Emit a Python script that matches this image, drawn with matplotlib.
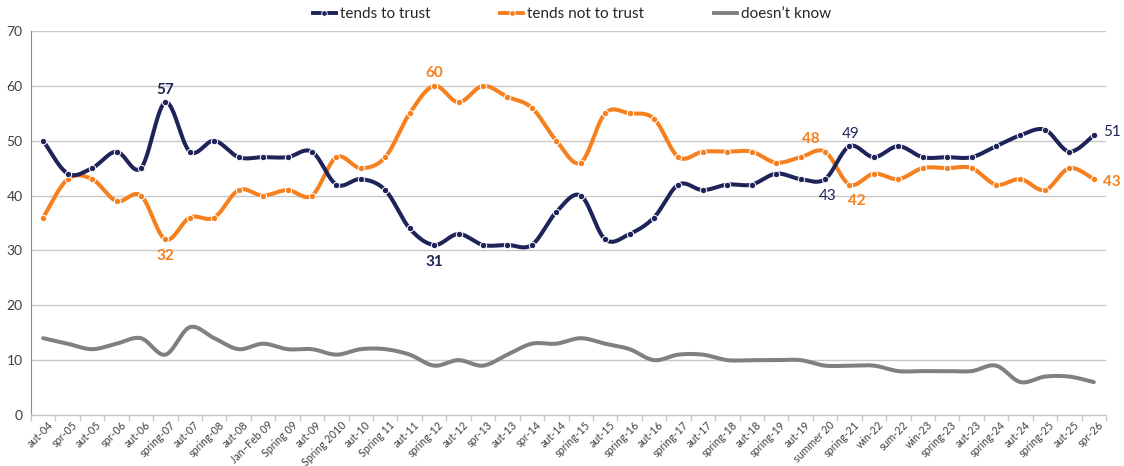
import numpy as np
import matplotlib
matplotlib.use("Agg")
import matplotlib.pyplot as plt
from matplotlib.lines import Line2D

plt.rcParams['font.family'] = ['Lato', 'DejaVu Sans']

categories = [
    "aut-04", "spr-05", "aut-05", "spr-06", "aut-06", "spring-07", "aut-07",
    "spring-08", "aut-08", "Jan\u2013Feb 09", "Spring 09", "aut-09", "Spring 2010",
    "aut-10", "Spring 11", "aut-11", "spring-12", "aut-12", "spr-13", "aut-13",
    "spr-14", "aut-14", "spring-15", "aut-15", "spring-16", "aut-16", "spring-17",
    "aut-17", "spring-18", "aut-18", "spring-19", "aut-19", "summer 20",
    "spring-21", "win-22", "sum-22", "win-23", "spring-23", "aut-23",
    "spring-24", "aut-24", "spring-25", "aut-25", "spr-26",
]

trust = [50, 44, 45, 48, 45, 57, 48, 50, 47, 47, 47, 48, 42, 43, 41, 34, 31, 33,
         31, 31, 31, 37, 40, 32, 33, 36, 42, 41, 42, 42, 44, 43, 43, 49, 47, 49,
         47, 47, 47, 49, 51, 52, 48, 51]
not_trust = [36, 43, 43, 39, 40, 32, 36, 36, 41, 40, 41, 40, 47, 45, 47, 55, 60,
             57, 60, 58, 56, 50, 46, 55, 55, 54, 47, 48, 48, 48, 46, 47, 48, 42,
             44, 43, 45, 45, 45, 42, 43, 41, 45, 43]
dont_know = [14, 13, 12, 13, 14, 11, 16, 14, 12, 13, 12, 12, 11, 12, 12, 11, 9,
             10, 9, 11, 13, 13, 14, 13, 12, 10, 11, 11, 10, 10, 10, 10, 9, 9, 9,
             8, 8, 8, 8, 9, 6, 7, 7, 6]

NAVY = "#1e2459"
ORANGE = "#f7801e"
GRAY = "#808080"


def smooth(xs, ys, steps=24):
    """Cubic Bezier smoothing through every point (Catmull-Rom style)."""
    xs = np.asarray(xs, float)
    ys = np.asarray(ys, float)
    pts = np.column_stack([xs, ys])
    n = len(pts)
    out = []
    t = np.linspace(0, 1, steps, endpoint=False)[:, None]
    for i in range(n - 1):
        p0 = pts[i]
        p3 = pts[i + 1]
        pm = pts[i - 1] if i > 0 else pts[i]
        pp = pts[i + 2] if i + 2 < n else pts[i + 1]
        c1 = p0 + (p3 - pm) / 6.0
        c2 = p3 - (pp - p0) / 6.0
        seg = ((1 - t) ** 3) * p0 + 3 * ((1 - t) ** 2) * t * c1 \
            + 3 * (1 - t) * t ** 2 * c2 + t ** 3 * p3
        out.append(seg)
    out.append(pts[-1][None, :])
    arr = np.vstack(out)
    return arr[:, 0], arr[:, 1]


fig = plt.figure(figsize=(11.24, 4.66), dpi=100)
ax = fig.add_axes([31 / 1124, 1 - 415 / 466, (1106 - 31) / 1124, (415 - 31) / 466])

x = np.arange(len(categories))

for vals, col, marker in [(dont_know, GRAY, False), (not_trust, ORANGE, True),
                          (trust, NAVY, True)]:
    sx, sy = smooth(x, vals)
    ax.plot(sx, sy, color=col, lw=2.9, solid_capstyle='round', zorder=3)
    if marker:
        ax.plot(x, vals, linestyle='none', marker='o', markersize=4.6,
                markerfacecolor=col, markeredgecolor='white', markeredgewidth=0.7,
                zorder=4)

ax.set_xlim(-0.5, len(categories) - 0.5)
ax.set_ylim(0, 70)
ax.set_yticks(range(0, 71, 10))
ax.yaxis.grid(True, color="#c8c8c8", lw=1.0)
ax.set_axisbelow(True)

for s in ['top', 'right']:
    ax.spines[s].set_visible(False)
ax.spines['left'].set_color("#8c8c8c")
ax.spines['bottom'].set_color("#c8c8c8")
ax.spines['bottom'].set_linewidth(1.0)

ax.tick_params(axis='y', length=0, labelsize=10, labelcolor="#404040", pad=6)
ax.set_xticks(x)
ax.set_xticklabels(categories, rotation=45, ha='right', rotation_mode='anchor',
                   fontsize=7.7, color="#404040")
ax.tick_params(axis='x', length=0, pad=3)
# category boundary tick marks
ax.set_xticks(np.arange(-0.5, len(categories), 1.0), minor=True)
ax.tick_params(axis='x', which='minor', length=4, color="#c8c8c8", width=1.0)
for lab in ax.get_xticklabels():
    lab.set_transform(lab.get_transform() +
                      matplotlib.transforms.ScaledTranslation(4 / 100, 0, fig.dpi_scale_trans))

# data labels
idx = {c: i for i, c in enumerate(categories)}
labels = [
    ("spring-07", trust, NAVY, 0, 9, 'bold'),
    ("spring-07", not_trust, ORANGE, 0, -12, 'bold'),
    ("spring-12", not_trust, ORANGE, 0, 9, 'bold'),
    ("spring-12", trust, NAVY, 0, -12, 'bold'),
    ("summer 20", not_trust, ORANGE, -0.6, 9, 'bold'),
    ("summer 20", trust, NAVY, 0.1, -12, 'normal'),
    ("spring-21", trust, NAVY, 0.05, 9, 'normal'),
    ("spring-21", not_trust, ORANGE, 0.3, -12, 'bold'),
]
for cat, series, col, dx, dy, wt in labels:
    i = idx[cat]
    ax.annotate(str(series[i]), (i + dx, series[i]), xytext=(0, dy),
                textcoords='offset points', ha='center', va='center',
                color=col, fontsize=11, fontweight=wt, zorder=5)
last = len(categories) - 1
ax.annotate(str(trust[last]), (last, trust[last]), xytext=(13, 2),
            textcoords='offset points', ha='center', va='center', color=NAVY,
            fontsize=11, fontweight='normal')
ax.annotate(str(not_trust[last]), (last, not_trust[last]), xytext=(13, -2),
            textcoords='offset points', ha='center', va='center', color=ORANGE,
            fontsize=11, fontweight='bold')

handles = [
    Line2D([], [], color=NAVY, lw=2.8, marker='o', markersize=4,
           markeredgecolor='white', markeredgewidth=0.6, markevery=[1]),
    Line2D([], [], color=ORANGE, lw=2.8, marker='o', markersize=4,
           markeredgecolor='white', markeredgewidth=0.6, markevery=[1]),
    Line2D([], [], color=GRAY, lw=2.8),
]
fig.legend(handles, ["tends to trust", "tends not to trust", "doesn\u2019t know"],
           loc='center', bbox_to_anchor=(0.509, 0.97), ncol=3, frameon=False,
           fontsize=11, handlelength=1.5, handletextpad=0.25, columnspacing=4.6,
           labelcolor="#262626")

fig.savefig("out.png", dpi=100)
